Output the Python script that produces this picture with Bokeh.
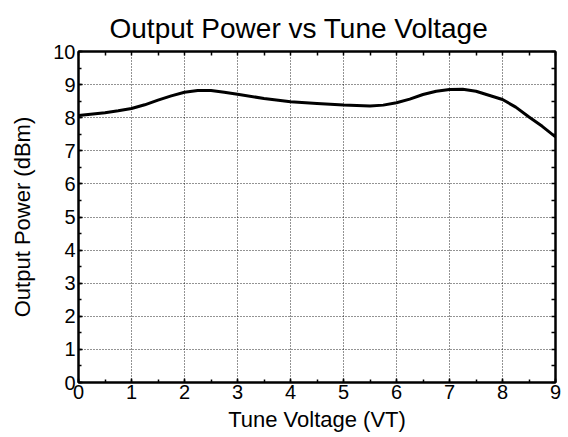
import numpy as np
from bokeh.plotting import figure
from bokeh.models import LinearAxis, SingleIntervalTicker, FixedTicker, Range1d
from bokeh.embed import file_html
from bokeh.resources import INLINE

# Data
tune_voltage = [0, 0.5, 0.75, 1, 1.25, 1.5, 1.75, 2, 2.25, 2.5, 2.75, 3, 3.5, 4, 4.5, 5, 5.5,
                5.75, 6, 6.25, 6.5, 6.75, 7, 7.25, 7.5, 8, 8.25, 8.5, 8.75, 9]
output_power = [8.07, 8.15, 8.21, 8.28, 8.39, 8.53, 8.66, 8.77, 8.82, 8.82, 8.77, 8.71, 8.58, 8.48,
                8.43, 8.38, 8.35, 8.38, 8.45, 8.56, 8.70, 8.80, 8.85, 8.86, 8.80, 8.55, 8.32, 8.02,
                7.74, 7.42]

title_text = "Output Power vs Tune Voltage"
x_label = "Tune Voltage (VT)"
y_label = "Output Power (dBm)"

X_MIN, X_MAX = 0, 9
Y_MIN, Y_MAX = 0, 10

FONT = "Liberation Sans"

p = figure(frame_width=477, frame_height=331,
           min_border_left=78, min_border_right=13, min_border_top=51, min_border_bottom=0,
           x_range=Range1d(X_MIN, X_MAX), y_range=Range1d(Y_MIN, Y_MAX),
           output_backend="svg", toolbar_location=None,
           x_axis_label=x_label, y_axis_label=y_label)

p.title.text = title_text
p.title.text_font = FONT
p.title.text_font_size = "28px"
p.title.text_font_style = "normal"
p.title.align = "left"
p.title.offset = 31
p.title.standoff = 15
p.title.text_color = "black"

p.line(tune_voltage, output_power, line_color="black", line_width=3, line_join="round")

p.outline_line_color = "black"
p.outline_line_width = 2
p.background_fill_color = "white"
p.border_fill_color = "white"

xt = SingleIntervalTicker(interval=1, num_minor_ticks=2)
yt = SingleIntervalTicker(interval=1, num_minor_ticks=2)

def style_axis(ax, ticker):
    ax.ticker = ticker
    ax.axis_line_color = "black"
    ax.axis_line_width = 2
    ax.major_tick_in = 4
    ax.major_tick_out = 0
    ax.minor_tick_in = 3
    ax.minor_tick_out = 0
    ax.major_tick_line_color = "black"
    ax.minor_tick_line_color = "black"
    ax.major_tick_line_width = 1.5
    ax.minor_tick_line_width = 1.5
    ax.major_label_text_font = FONT
    ax.major_label_text_font_size = "20px"
    ax.major_label_text_color = "black"

style_axis(p.xaxis[0], xt)
style_axis(p.yaxis[0], yt)
p.xaxis[0].major_label_standoff = 2
p.yaxis[0].major_label_standoff = 3
for ax in (p.xaxis[0], p.yaxis[0]):
    ax.axis_label_text_font = FONT
    ax.axis_label_text_font_size = "22px"
    ax.axis_label_text_font_style = "normal"
    ax.axis_label_text_color = "black"
p.xaxis[0].axis_label_standoff = 5
p.yaxis[0].axis_label_standoff = 15

# Box axes on top and right: tick marks only, no labels
top_ticks = FixedTicker(ticks=[], minor_ticks=list(np.arange(X_MIN, X_MAX + 0.01, 0.5)))
right_ticks = FixedTicker(ticks=[], minor_ticks=list(np.arange(Y_MIN, Y_MAX + 0.01, 0.5)))
top_ax = LinearAxis(ticker=top_ticks)
right_ax = LinearAxis(ticker=right_ticks)
for ax in (top_ax, right_ax):
    ax.axis_line_color = "black"
    ax.axis_line_width = 2
    ax.major_tick_in = 0
    ax.major_tick_out = 0
    ax.minor_tick_in = 4
    ax.minor_tick_out = 0
    ax.minor_tick_line_color = "black"
    ax.minor_tick_line_width = 1.5
    ax.major_label_standoff = 0
p.add_layout(top_ax, "above")
p.add_layout(right_ax, "right")

for g in (p.xgrid[0], p.ygrid[0]):
    g.grid_line_color = "black"
    g.grid_line_width = 1
    g.grid_line_dash = "1 2"
    g.grid_line_alpha = 0.85
p.xgrid[0].ticker = xt
p.ygrid[0].ticker = yt

open("out.html", "w").write(file_html(p, INLINE))
